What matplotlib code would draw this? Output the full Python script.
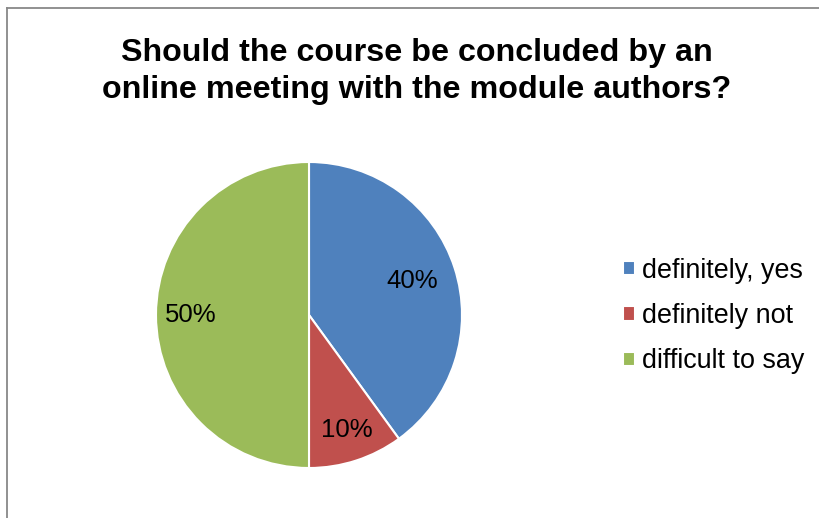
import matplotlib
matplotlib.use('Agg')
import matplotlib.pyplot as plt
from matplotlib.lines import Line2D
import numpy as np

plt.rcParams['font.family'] = ['Liberation Sans', 'DejaVu Sans']

labels = ['definitely, yes', 'definitely not', 'difficult to say']
values = [40, 10, 50]
colors = ['#4F81BD', '#C0504D', '#9BBB59']
title = 'Should the course be concluded by an\nonline meeting with the module authors?'

W, H = 819, 518
fig = plt.figure(figsize=(W / 100, H / 100), dpi=100)

# pie centre ~ (309, 315) px, radius ~153 px
cx, cy, r = 309, 315, 153
ax = fig.add_axes([(cx - r) / W, (H - cy - r) / H, 2 * r / W, 2 * r / H])
wedges, texts, autotexts = ax.pie(values, colors=colors, startangle=90, counterclock=False,
                                  autopct='%.0f%%',
                                  wedgeprops=dict(edgecolor='white', linewidth=1.5),
                                  textprops=dict(fontsize=18.5, color='black'))
# Excel-style best-fit label distances
label_dist = [0.71, 0.79, 0.77]
for w, t, d in zip(wedges, autotexts, label_dist):
    mid = np.deg2rad((w.theta1 + w.theta2) / 2)
    t.set_position((d * np.cos(mid), d * np.sin(mid)))
ax.set_xlim(-1, 1)
ax.set_ylim(-1, 1)
ax.set_aspect('equal')

fig.text(417 / W, 1 - 71.5 / H, title, ha='center', va='center', fontsize=23.2,
         fontweight='bold', linespacing=1.28)

fig.legend(wedges, labels, loc='center left', bbox_to_anchor=(623 / W, 1 - 316 / H),
           frameon=False, fontsize=19.4, handlelength=0.45, handleheight=0.45,
           handletextpad=0.25, labelspacing=0.72, borderpad=0, borderaxespad=0)

# chart-area border (top and left edges visible)
fig.add_artist(Line2D([6.5 / W, 6.5 / W], [0, 1 - 7.5 / H], transform=fig.transFigure,
                      color='#888888', linewidth=1.3))
fig.add_artist(Line2D([6.5 / W, 1], [1 - 7.5 / H, 1 - 7.5 / H], transform=fig.transFigure,
                      color='#888888', linewidth=1.3))

fig.savefig('out.png', dpi=100)
